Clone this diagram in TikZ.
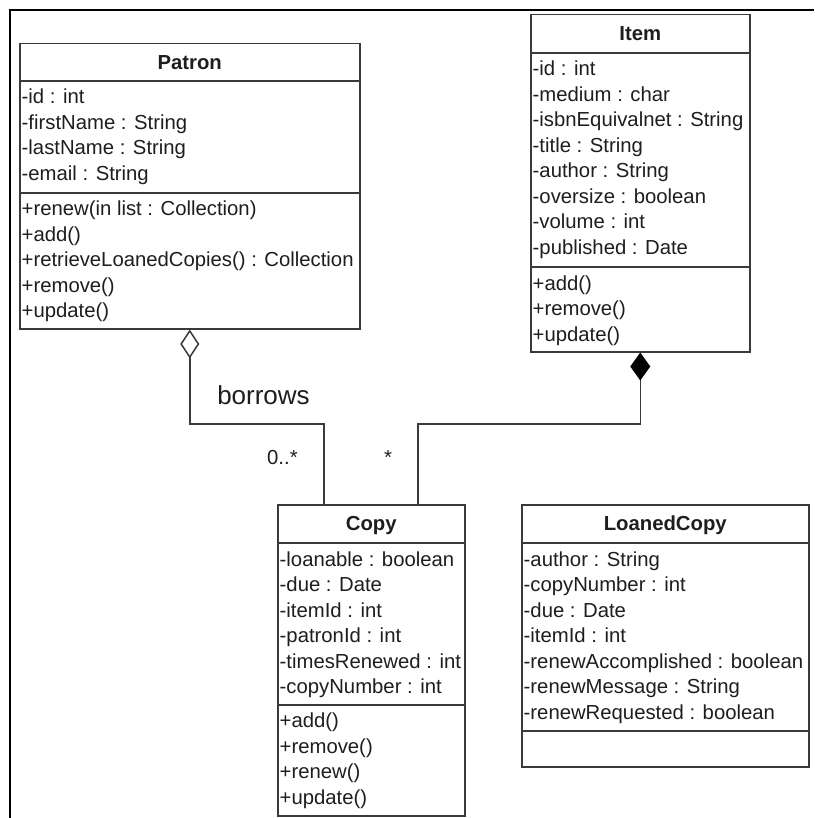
\documentclass[tikz,border=0pt]{standalone}
\usepackage{fontspec}
\setmainfont{Liberation Sans}
\usetikzlibrary{arrows.meta}
\definecolor{boxgray}{HTML}{3A3A3A}
\definecolor{txtcol}{HTML}{1E1E1E}
\begin{document}
\begin{tikzpicture}[x=1pt,y=-1pt,
  classbox/.style={draw=boxgray, line width=1.5pt, inner sep=0pt, anchor=north west},
  sepline/.style={draw=boxgray, line width=1.6pt},
  txt/.style={inner sep=0pt, anchor=base west, text=txtcol, font=\fontsize{20.3}{24}\selectfont},
  head/.style={inner sep=0pt, anchor=base, text=txtcol, font=\fontsize{20.3}{24}\selectfont\bfseries},
  conn/.style={draw=boxgray, line width=1.5pt},
  agg/.style={conn, -{Diamond[open, length=29pt, width=19pt, fill=white]}},
  comp/.style={conn, -{Diamond[length=28pt, width=20pt, color=black]}},
  lbl/.style={inner sep=0pt, text=txtcol, font=\fontsize{20.3}{24}\selectfont},
]
\useasboundingbox (0,0) rectangle (814,818);
\fill[white] (0,0) rectangle (814,818);
\draw[line width=2pt, black] (10,818) -- (10,10) -- (814,10);

% Patron
\node[classbox, minimum width=340pt, minimum height=285pt] (patron) at (19,43) {};
\draw[sepline] ([yshift=-38pt]patron.north west) -- ([yshift=-38pt]patron.north east);
\draw[sepline] ([yshift=-150pt]patron.north west) -- ([yshift=-150pt]patron.north east);
\node[head] (patronT) at ([yshift=-26.5pt]patron.north) {Patron};
\foreach \t [count=\i from 0] in {{-id : int},{-firstName : String},{-lastName : String},{-email : String}}
  \node[txt, name=pa\i] at (21.5,{104+25.5*\i}) {\t};
\foreach \t [count=\i from 0] in {{+renew(in list : Collection)},{+add()},{+retrieveLoanedCopies() : Collection},{+remove()},{+update()}}
  \node[txt, name=pm\i] at (21.5,{215.5+25.5*\i}) {\t};

% Item
\node[classbox, minimum width=219pt, minimum height=337pt] (item) at (530,14) {};
\draw[sepline] ([yshift=-39pt]item.north west) -- ([yshift=-39pt]item.north east);
\draw[sepline] ([yshift=-253pt]item.north west) -- ([yshift=-253pt]item.north east);
\node[head] (itemT) at ([yshift=-26.5pt]item.north) {Item};
\foreach \t [count=\i from 0] in {{-id : int},{-medium : char},{-isbnEquivalnet : String},{-title : String},{-author : String},{-oversize : boolean},{-volume : int},{-published : Date}}
  \node[txt, name=ia\i] at (532.5,{76+25.5*\i}) {\t};
\foreach \t [count=\i from 0] in {{+add()},{+remove()},{+update()}}
  \node[txt, name=im\i] at (532.5,{290+25.5*\i}) {\t};

% Copy
\node[classbox, minimum width=187pt, minimum height=311pt] (copy) at (277,504) {};
\draw[sepline] ([yshift=-39pt]copy.north west) -- ([yshift=-39pt]copy.north east);
\draw[sepline] ([yshift=-201pt]copy.north west) -- ([yshift=-201pt]copy.north east);
\node[head] (copyT) at ([yshift=-26.5pt]copy.north) {Copy};
\foreach \t [count=\i from 0] in {{-loanable : boolean},{-due : Date},{-itemId : int},{-patronId : int},{-timesRenewed : int},{-copyNumber : int}}
  \node[txt, name=ca\i] at (279.5,{566+25.5*\i}) {\t};
\foreach \t [count=\i from 0] in {{+add()},{+remove()},{+renew()},{+update()}}
  \node[txt, name=cm\i] at (279.5,{727.5+25.5*\i}) {\t};

% LoanedCopy
\node[classbox, minimum width=287pt, minimum height=262pt] (loaned) at (521,504) {};
\draw[sepline] ([yshift=-39pt]loaned.north west) -- ([yshift=-39pt]loaned.north east);
\draw[sepline] ([yshift=-227pt]loaned.north west) -- ([yshift=-227pt]loaned.north east);
\node[head] (loanedT) at ([yshift=-26.5pt]loaned.north) {LoanedCopy};
\foreach \t [count=\i from 0] in {{-author : String},{-copyNumber : int},{-due : Date},{-itemId : int},{-renewAccomplished : boolean},{-renewMessage : String},{-renewRequested : boolean}}
  \node[txt, name=la\i] at (523.5,{566+25.5*\i}) {\t};

% Connectors
\draw[agg] ([xshift=-47.5pt]copy.north) -- ++(0,-80) -| (patron.south);
\draw[comp] ([xshift=46.5pt]copy.north) -- ++(0,-80) -| (item.south);

\node[lbl, anchor=base, font=\fontsize{26}{30}\selectfont] (borrows) at (263.5,404) {borrows};
\node[lbl, anchor=base west] (mult1) at (267,464) {0..*};
\node[lbl, anchor=base west] (mult2) at (384,464) {*};
\end{tikzpicture}
\end{document}
